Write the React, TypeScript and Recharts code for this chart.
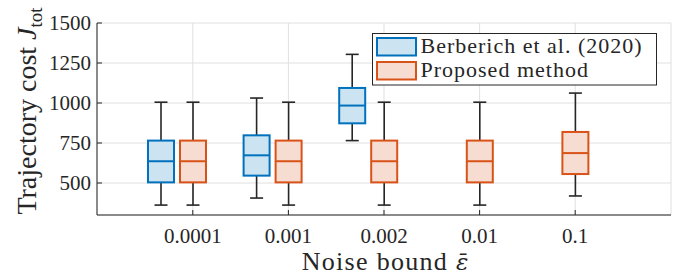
import React from "react";
import { BarChart, Bar, XAxis, YAxis, CartesianGrid, Legend } from "recharts";

// Noise bound categories on the x axis
const noiseBounds = ["0.0001", "0.001", "0.002", "0.01", "0.1"];

// Five-number summaries per noise bound: [min, q1, median, q3, max]
const berberichStats: (number[] | null)[] = [
  [362, 504, 636, 765, 1005],
  [406, 546, 673, 798, 1031],
  [765, 873, 984, 1094, 1304],
  null,
  null,
];
const proposedStats: (number[] | null)[] = [
  [362, 504, 636, 765, 1005],
  [362, 504, 636, 765, 1005],
  [362, 504, 636, 765, 1005],
  [362, 504, 636, 765, 1005],
  [419, 556, 687, 819, 1062],
];

const yTicks = [500, 750, 1000, 1250, 1500];

const SERIES = [
  { key: "b", name: "Berberich et al. (2020)", stroke: "#0072BD", fill: "#cce3f2" },
  { key: "p", name: "Proposed method", stroke: "#D95319", fill: "#f7ddd1" },
];

const FONT = "'Liberation Serif', 'Times New Roman', serif";
const INK = "#262626";

const data = noiseBounds.map((name, i) => {
  const b = berberichStats[i];
  const p = proposedStats[i];
  return {
    name,
    b,
    p,
    bRange: b ? [b[0], b[4]] : null,
    pRange: p ? [p[0], p[4]] : null,
    pad: null,
  };
});

function BoxShape(props: any) {
  const { x, y, width, height, payload, statsKey, stroke, fill } = props;
  const s = payload && payload[statsKey];
  if (!s || !isFinite(y) || !isFinite(height)) return null;
  const [min, q1, med, q3, max] = s;
  const top = Math.min(y, y + height);
  const bottom = Math.max(y, y + height);
  const py = (v: number) => top + ((max - v) / (max - min)) * (bottom - top);
  const cx = x + width / 2;
  const cap = width / 4;
  return (
    <g>
      <line x1={cx} x2={cx} y1={py(max)} y2={py(q3)} stroke={INK} strokeWidth={1.6} />
      <line x1={cx} x2={cx} y1={py(q1)} y2={py(min)} stroke={INK} strokeWidth={1.6} />
      <line x1={cx - cap} x2={cx + cap} y1={py(max)} y2={py(max)} stroke={INK} strokeWidth={1.6} />
      <line x1={cx - cap} x2={cx + cap} y1={py(min)} y2={py(min)} stroke={INK} strokeWidth={1.6} />
      <rect x={x} y={py(q3)} width={width} height={py(q1) - py(q3)} fill={fill} stroke={stroke} strokeWidth={2} />
      <line x1={x} x2={x + width} y1={py(med)} y2={py(med)} stroke={stroke} strokeWidth={2} />
    </g>
  );
}

function renderLegend() {
  return (
    <svg width={286} height={54} style={{ display: "block" }}>
      <rect x={0.5} y={0.5} width={284} height={51.5} fill="#fff" stroke={INK} strokeWidth={1} />
      {SERIES.map((s, i) => (
        <g key={s.key}>
          <rect x={5} y={5 + i * 24} width={39} height={17.5} fill={s.fill} stroke={s.stroke} strokeWidth={2} />
          <text x={48.5} y={20 + i * 24} fontFamily={FONT} fontSize={22} letterSpacing={1} fill={INK}>
            {s.name}
          </text>
        </g>
      ))}
    </svg>
  );
}

function YLabel(props: any) {
  const vb = props.viewBox || { x: 0, y: 23, width: 97, height: 192 };
  const cy = vb.y + vb.height / 2 - 8;
  const tx = 35.5;
  return (
    <text
      x={tx}
      y={cy}
      transform={`rotate(-90 ${tx} ${cy})`}
      textAnchor="middle"
      fontFamily={FONT}
      fontSize={28}
      fill={INK}
    >
      Trajectory cost <tspan fontStyle="italic">J</tspan>
      <tspan fontSize={19} dy={6}>tot</tspan>
    </text>
  );
}

function XLabel(props: any) {
  const vb = props.viewBox || { x: 97, y: 215, width: 574, height: 60 };
  const cx = vb.x + vb.width / 2 + 1;
  return (
    <text x={cx} y={vb.y + 55} textAnchor="middle" fontFamily={FONT} fontSize={26} letterSpacing={1.3} fill={INK}>
      Noise bound{" "}
      <tspan fontStyle="italic" fontFamily="'DejaVu Serif', serif" fontSize={23} letterSpacing={0}>
        {"\u03b5\u0304"}
      </tspan>
    </text>
  );
}

export default function App() {
  return (
    <div style={{ position: "absolute", left: 0, top: 0, background: "#fff" }}>
      <BarChart
        width={682}
        height={275}
        data={data}
        margin={{ top: 23, right: 11, left: 0, bottom: 0 }}
        barSize={26}
        barGap={6}
      >
        <CartesianGrid stroke="#e0e0e0" strokeWidth={1} />
        <XAxis
          dataKey="name"
          height={60}
          padding={{ left: 48, right: 48 }}
          tickSize={-5}
          tickMargin={18}
          axisLine={{ stroke: INK }}
          tickLine={{ stroke: INK }}
          tick={{ fontFamily: FONT, fontSize: 21, fill: INK }}
          label={{ content: XLabel }}
        />
        <YAxis
          type="number"
          domain={[300, 1500]}
          ticks={yTicks}
          width={97}
          tickSize={-5}
          tickMargin={11}
          axisLine={{ stroke: INK }}
          tickLine={{ stroke: INK }}
          tick={{ fontFamily: FONT, fontSize: 21, fill: INK }}
          label={{ content: YLabel }}
        />
        <Legend
          layout="vertical"
          align="center"
          verticalAlign="middle"
          content={renderLegend}
          wrapperStyle={{ position: "absolute", left: 372, top: 33, width: 286, height: 54 }}
        />
        {SERIES.map((s) => (
          <Bar
            key={s.key}
            dataKey={`${s.key}Range`}
            name={s.name}
            fill={s.fill}
            stroke={s.stroke}
            isAnimationActive={false}
            shape={(p: any) => <BoxShape {...p} statsKey={s.key} stroke={s.stroke} fill={s.fill} />}
          />
        ))}
        <Bar dataKey="pad" fill="none" legendType="none" isAnimationActive={false} />
      </BarChart>
    </div>
  );
}
